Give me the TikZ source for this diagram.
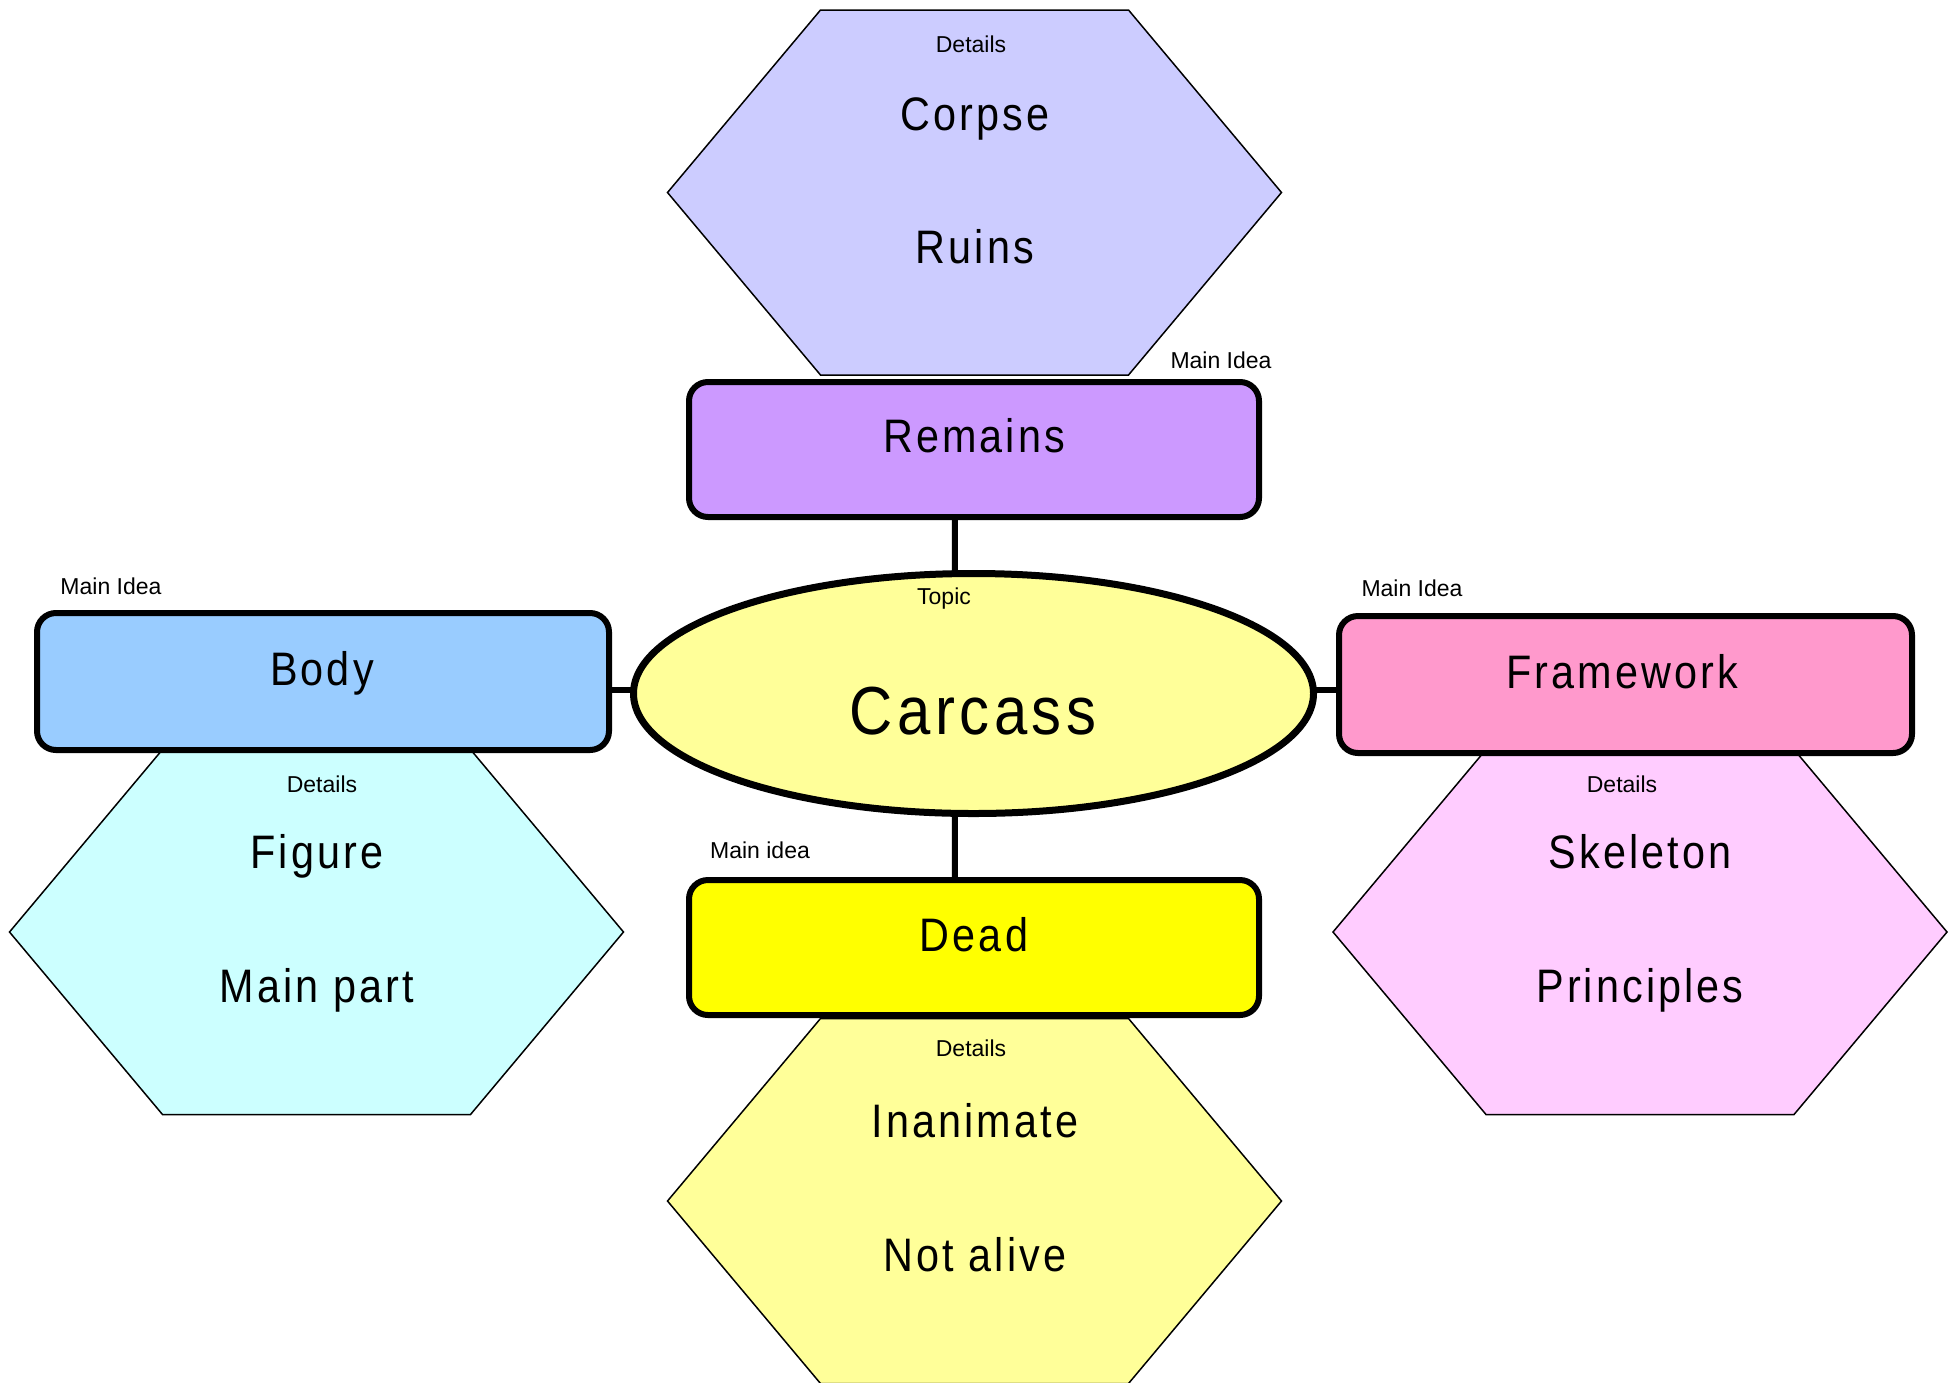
\documentclass[tikz,border=0pt]{standalone}
\usepackage{fontspec}
\setmainfont{Liberation Sans}
\newfontfamily\bigfont[FakeStretch=0.88,LetterSpace=6.6]{Liberation Sans}
\usetikzlibrary{shapes.geometric,backgrounds}
\definecolor{cHexTop}{HTML}{CCCCFF}
\definecolor{cRemains}{HTML}{CC99FF}
\definecolor{cTopic}{HTML}{FFFF99}
\definecolor{cBody}{HTML}{99CCFF}
\definecolor{cHexLeft}{HTML}{CCFFFF}
\definecolor{cFrame}{HTML}{FF99CC}
\definecolor{cHexRight}{HTML}{FFCCFF}
\definecolor{cDead}{HTML}{FFFF00}
\definecolor{cHexBottom}{HTML}{FFFF99}
\tikzset{
  idea/.style={draw, line width=6pt, rounded corners=19pt, minimum width=570pt, minimum height=135pt, inner sep=0pt},
  hexa/.style={draw, line width=1.5pt},
  conn/.style={line width=6pt},
  small/.style={font=\fontsize{23}{26}\selectfont, anchor=base, inner sep=0pt},
  word/.style={font=\bigfont\fontsize{47}{52}\selectfont, anchor=base, inner sep=0pt},
  topicword/.style={font=\bigfont\fontsize{68}{72}\selectfont, anchor=base, inner sep=0pt},
}
\newcommand\hexshape[3]{\path[hexa, fill=#3] ({#1-307},{#2}) -- ({#1-154},{#2-182.5}) -- ({#1+154},{#2-182.5}) -- ({#1+307},{#2}) -- ({#1+154},{#2+182.5}) -- ({#1-154},{#2+182.5}) -- cycle;}
\begin{document}
\begin{tikzpicture}[x=1pt,y=-1pt]
\path[use as bounding box] (0,0) rectangle (1958,1382);
\clip (0,0) rectangle (1958,1382);
\begin{scope}[on background layer]
  \fill[white] (0,0) rectangle (1958,1382);
\end{scope}

% detail hexagons
\hexshape{974.5}{192.5}{cHexTop}
\hexshape{316.5}{932}{cHexLeft}
\hexshape{1640}{932}{cHexRight}
\hexshape{974.5}{1201}{cHexBottom}

% main idea boxes and topic
\node[idea, fill=cRemains] (remains) at (974,449.5) {};
\node[idea, fill=cBody, minimum width=572pt, minimum height=137pt] (body) at (323,681.5) {};
\node[idea, fill=cFrame, minimum width=573pt, minimum height=137pt] (framework) at (1625.5,684.5) {};
\node[idea, fill=cDead] (dead) at (974,947.5) {};
\node[ellipse, draw, line width=7pt, fill=cTopic, minimum width=680pt, minimum height=240pt, inner sep=0pt] (carcass) at (973.5,693.5) {};

% connectors
\begin{scope}[on background layer]
  \draw[conn] ([xshift=-19pt]remains.center) -- ([xshift=-19pt]carcass.center);
  \draw[conn] ([xshift=-19pt]carcass.center) -- ([xshift=-19pt]dead.center);
  \draw[conn] ([yshift=3.5pt]carcass.center) -- ([yshift=3.5pt]carcass.center -| body.center);
  \draw[conn] ([yshift=3.5pt]carcass.center) -- ([yshift=3.5pt]carcass.center -| framework.center);
\end{scope}

% texts: top
\node[small] (tDetT) at (971,52.5) {Details};
\node[word] (tCorpse) at (975,130) {Corpse};
\node[word] (tRuins) at (975,263) {Ruins};
\node[small] (tMainT) at (1221,368) {Main Idea};
\node[word] (tRemains) at (974,452) {Remains};
% center
\node[small] (tTopic) at (944,604) {Topic};
\node[topicword] (tCarcass) at (973,734) {Carcass};
% left
\node[small] (tMainL) at (111,594) {Main Idea};
\node[word] (tBody) at (322,685) {Body};
\node[small] (tDetL) at (322,792) {Details};
\node[word] (tFigure) at (317,868) {Figure};
\node[word] (tMainPart) at (317,1002) {Main part};
% right
\node[small] (tMainR) at (1412,596) {Main Idea};
\node[word] (tFrame) at (1622,688) {Framework};
\node[small] (tDetR) at (1622,792) {Details};
\node[word] (tSkeleton) at (1640,868) {Skeleton};
\node[word] (tPrinciples) at (1640,1002) {Principles};
% bottom
\node[small] (tMainB) at (760,858) {Main idea};
\node[word] (tDead) at (974,951) {Dead};
\node[small] (tDetB) at (971,1056) {Details};
\node[word] (tInanimate) at (975,1137) {Inanimate};
\node[word] (tNotAlive) at (975,1271) {Not alive};
\end{tikzpicture}
\end{document}
